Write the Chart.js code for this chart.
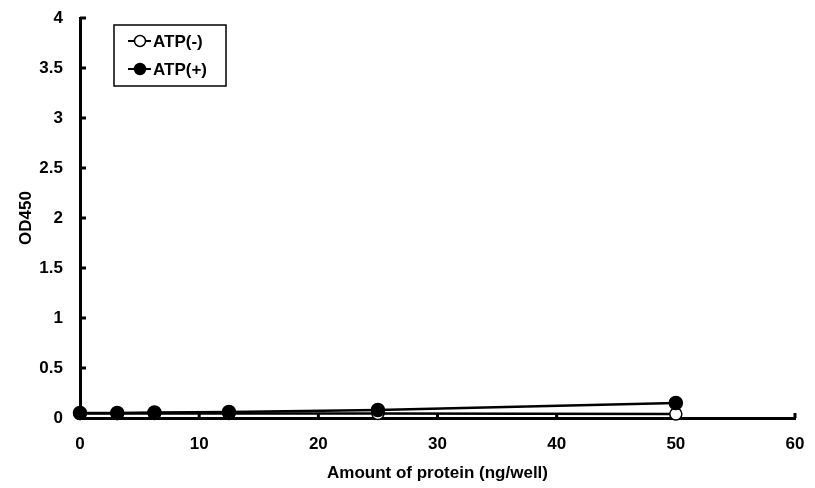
<!DOCTYPE html>
<html>
<head>
<meta charset="utf-8">
<script src="https://cdn.jsdelivr.net/npm/chart.js@4.4.1/dist/chart.umd.min.js"></script>
<style>
  html, body { margin: 0; padding: 0; background: #fff; }
  #c { display: block; }
</style>
</head>
<body>
<canvas id="c" width="815" height="488"></canvas>
<script>
// protein amounts (ng/well)
const amounts = [0, 3.125, 6.25, 12.5, 25, 50];
const atpMinus = [0.045, 0.045, 0.045, 0.045, 0.045, 0.04];
const atpPlus = [0.05, 0.05, 0.055, 0.06, 0.08, 0.15];
const xTicks = [0, 10, 20, 30, 40, 50, 60];
const yTicks = [0, 0.5, 1, 1.5, 2, 2.5, 3, 3.5, 4];

const FONT = 'Liberation Sans, Arial, sans-serif';

function toPoints(ys) {
    return amounts.map((x, i) => ({x: x, y: ys[i]}));
}

// ticks pointing inward, like the original (drawn under the markers)
const innerTicks = {
    id: 'innerTicks',
    beforeDatasetsDraw(chart) {
        const ctx = chart.ctx;
        const a = chart.chartArea;
        const xs = chart.scales.x, ys = chart.scales.y;
        ctx.save();
        ctx.strokeStyle = '#000';
        ctx.lineWidth = 3;
        ctx.beginPath();
        yTicks.forEach(v => {
            const py = ys.getPixelForValue(v);
            ctx.moveTo(a.left, py);
            ctx.lineTo(a.left + 6, py);
        });
        xTicks.forEach(v => {
            const px = xs.getPixelForValue(v);
            ctx.moveTo(px, a.bottom);
            ctx.lineTo(px, a.bottom - 5);
        });
        ctx.stroke();
        ctx.restore();
    }
};

// boxed legend inside the plot
const boxLegend = {
    id: 'boxLegend',
    afterDraw(chart) {
        const ctx = chart.ctx;
        const left = 114, top = 25, w = 112, h = 61;
        ctx.save();
        ctx.strokeStyle = '#000';
        ctx.lineWidth = 1.5;
        ctx.strokeRect(left, top, w, h);
        ctx.font = 'bold 17px ' + FONT;
        ctx.textBaseline = 'middle';
        chart.data.datasets.forEach((ds, i) => {
            const y = top + 16 + i * 28;
            ctx.lineWidth = 2;
            ctx.strokeStyle = '#000';
            ctx.beginPath();
            ctx.moveTo(128, y);
            ctx.lineTo(151, y);
            ctx.stroke();
            ctx.beginPath();
            ctx.arc(140, y, 5.5, 0, Math.PI * 2);
            ctx.fillStyle = ds.pointBackgroundColor;
            ctx.fill();
            ctx.lineWidth = 1.5;
            ctx.stroke();
            ctx.fillStyle = '#000';
            ctx.fillText(ds.label, 153, y + 1);
        });
        ctx.restore();
    }
};

new Chart(document.getElementById('c'), {
    type: 'scatter',
    data: {
        datasets: [
            {
                label: 'ATP(-)',
                data: toPoints(atpMinus),
                showLine: true,
                order: 1,
                borderColor: '#000',
                borderWidth: 2.5,
                pointRadius: 6,
                pointBorderWidth: 1.5,
                pointBackgroundColor: '#fff',
                pointBorderColor: '#000',
                clip: false
            },
            {
                label: 'ATP(+)',
                data: toPoints(atpPlus),
                showLine: true,
                order: 0,
                borderColor: '#000',
                borderWidth: 2.5,
                pointRadius: 6.5,
                pointBorderWidth: 1.5,
                pointBackgroundColor: '#000',
                pointBorderColor: '#000',
                clip: false
            }
        ]
    },
    options: {
        responsive: false,
        animation: false,
        layout: {autoPadding: false, padding: {top: 18, right: 20, left: 0, bottom: 0}},
        plugins: {
            legend: {display: false},
            tooltip: {enabled: false}
        },
        scales: {
            x: {
                type: 'linear',
                min: 0,
                max: 60,
                afterBuildTicks: s => { s.ticks = xTicks.map(v => ({value: v})); },
                afterFit: s => { s.height = 70; s.paddingLeft = 0; s.paddingRight = 0; },
                grid: {display: false, drawTicks: false},
                border: {display: true, color: '#000', width: 3},
                ticks: {
                    color: '#000',
                    padding: 16,
                    font: {family: FONT, size: 17, weight: 'bold'},
                    callback: v => String(v)
                },
                title: {
                    display: true,
                    text: 'Amount of protein (ng/well)',
                    color: '#000',
                    font: {family: FONT, size: 17, weight: 'bold'},
                    padding: {top: 10}
                }
            },
            y: {
                type: 'linear',
                min: 0,
                max: 4,
                afterBuildTicks: s => { s.ticks = yTicks.map(v => ({value: v})); },
                afterFit: s => { s.width = 80; s.paddingTop = 0; s.paddingBottom = 0; },
                grid: {display: false, drawTicks: false},
                border: {display: true, color: '#000', width: 3},
                ticks: {
                    color: '#000',
                    padding: 17,
                    font: {family: FONT, size: 17, weight: 'bold'},
                    callback: v => String(v)
                },
                title: {
                    display: true,
                    text: 'OD450',
                    color: '#000',
                    font: {family: FONT, size: 17, weight: 'bold'},
                    padding: {top: 16, bottom: 4}
                }
            }
        }
    },
    plugins: [innerTicks, boxLegend]
});
</script>
</body>
</html>
